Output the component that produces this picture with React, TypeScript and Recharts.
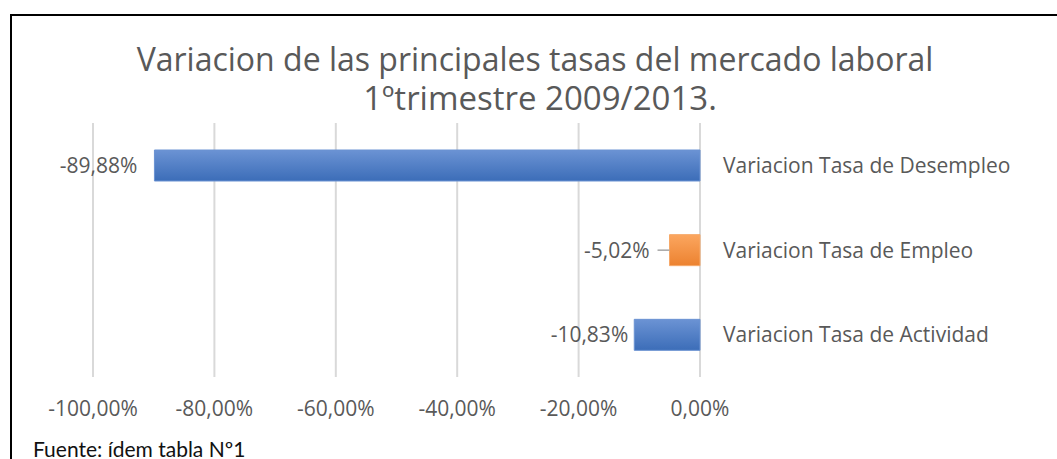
import React from 'react';
import { BarChart, Bar, XAxis, YAxis, CartesianGrid, Cell, LabelList } from 'recharts';

// ---------- data ----------
const CATEGORIES = [
  'Variacion Tasa de Desempleo',
  'Variacion Tasa de Empleo',
  'Variacion Tasa de Actividad',
];
const VALUES = [-89.88, -5.02, -10.83];
const X_TICKS = [-100, -80, -60, -40, -20, 0];
const TITLE_LINES = ['Variacion de las principales tasas del mercado laboral', '1ºtrimestre 2009/2013.'];
const SOURCE_NOTE = 'Fuente: ídem tabla Nº1';

// ---------- styles ----------
const W = 1057;
const H = 459;
const FONT = '"Open Sans", "DejaVu Sans", sans-serif';
const TEXT_COLOR = '#595959';
const GRID_COLOR = '#d9d9d9';
const BAR_FILL_IDS = ['gradBlue', 'gradOrange', 'gradBlue'];
const BAR_STROKES = ['#6a92d2', '#f6a868', '#6a92d2'];
const LABEL_GAPS = [17, 20, 6];
const LEADER = [false, true, false];

const data = CATEGORIES.map((name, i) => ({ name, value: VALUES[i] }));

const fmtPct = (v: number) => {
  const s = Math.abs(v).toFixed(2).replace('.', ',');
  return (v < 0 ? '-' : '') + s + '%';
};

const XTick = (props: any) => {
  const { x, y, payload } = props;
  return (
    <text x={x} y={y + 39} textAnchor="middle" fill={TEXT_COLOR} fontFamily={FONT} fontSize={21}>
      {fmtPct(payload.value)}
    </text>
  );
};

const YTick = (props: any) => {
  const { x, y, payload } = props;
  return (
    <text x={x} y={y + 7.5} textAnchor="start" fill={TEXT_COLOR} fontFamily={FONT} fontSize={21}>
      {payload.value}
    </text>
  );
};

const BarLabel = (props: any) => {
  const { x, y, width, height, value, index } = props;
  const left = Math.min(Number(x), Number(x) + Number(width));
  const cy = Number(y) + Number(height) / 2;
  const gap = LABEL_GAPS[index] ?? 6;
  return (
    <g>
      {LEADER[index] && (
        <line x1={left - 12} y1={cy} x2={left} y2={cy} stroke="#a6a6a6" strokeWidth={1.5} />
      )}
      <text
        x={left - gap}
        y={cy + 7.5}
        textAnchor="end"
        fill={TEXT_COLOR}
        fontFamily={FONT}
        fontSize={21}
      >
        {fmtPct(Number(value))}
      </text>
    </g>
  );
};

export default function App() {
  return (
    <div
      style={{
        position: 'absolute',
        left: 0,
        top: 0,
        width: W,
        height: H,
        overflow: 'hidden',
        background: '#fff',
      }}
    >
      <BarChart
        width={W}
        height={H}
        data={data}
        layout="vertical"
        margin={{ top: 123, right: 0, bottom: 0, left: 93 }}
        barSize={31}
      >
        <defs>
          <linearGradient id="gradBlue" x1="0" y1="0" x2="0" y2="1">
            <stop offset="0%" stopColor="#6b93d4" />
            <stop offset="100%" stopColor="#3c6db8" />
          </linearGradient>
          <linearGradient id="gradOrange" x1="0" y1="0" x2="0" y2="1">
            <stop offset="0%" stopColor="#fba65f" />
            <stop offset="100%" stopColor="#ec8230" />
          </linearGradient>
        </defs>
        <CartesianGrid horizontal={false} vertical stroke={GRID_COLOR} strokeWidth={2} />
        <XAxis
          type="number"
          domain={[-100, 0]}
          ticks={X_TICKS}
          axisLine={false}
          tickLine={false}
          tickSize={0}
          tickMargin={0}
          height={82}
          tick={<XTick />}
          interval={0}
        />
        <YAxis
          type="category"
          dataKey="name"
          orientation="right"
          width={357}
          axisLine={false}
          tickLine={false}
          tickSize={0}
          tickMargin={23}
          tick={<YTick />}
          interval={0}
        />
        <Bar dataKey="value" isAnimationActive={false}>
          {data.map((d, i) => (
            <Cell key={d.name} fill={`url(#${BAR_FILL_IDS[i]})`} stroke={BAR_STROKES[i]} strokeWidth={1} />
          ))}
          <LabelList dataKey="value" content={<BarLabel />} />
        </Bar>
      </BarChart>

      <svg
        width={W}
        height={H}
        style={{ position: 'absolute', left: 0, top: 0, pointerEvents: 'none' }}
      >
        <line x1={11} y1={15} x2={W} y2={15} stroke="#000" strokeWidth={2} />
        <line x1={11} y1={14} x2={11} y2={H} stroke="#000" strokeWidth={2} />
        <text textAnchor="middle" fill={TEXT_COLOR} fontFamily={FONT}>
          <tspan x={535} y={71} fontSize={32}>{TITLE_LINES[0]}</tspan>
          <tspan x={540} y={110} fontSize={33}>{TITLE_LINES[1]}</tspan>
        </text>
        <text x={33} y={457} textAnchor="start" fill="#111" fontFamily="Lato, sans-serif" fontSize={21}>
          {SOURCE_NOTE}
        </text>
      </svg>
    </div>
  );
}
